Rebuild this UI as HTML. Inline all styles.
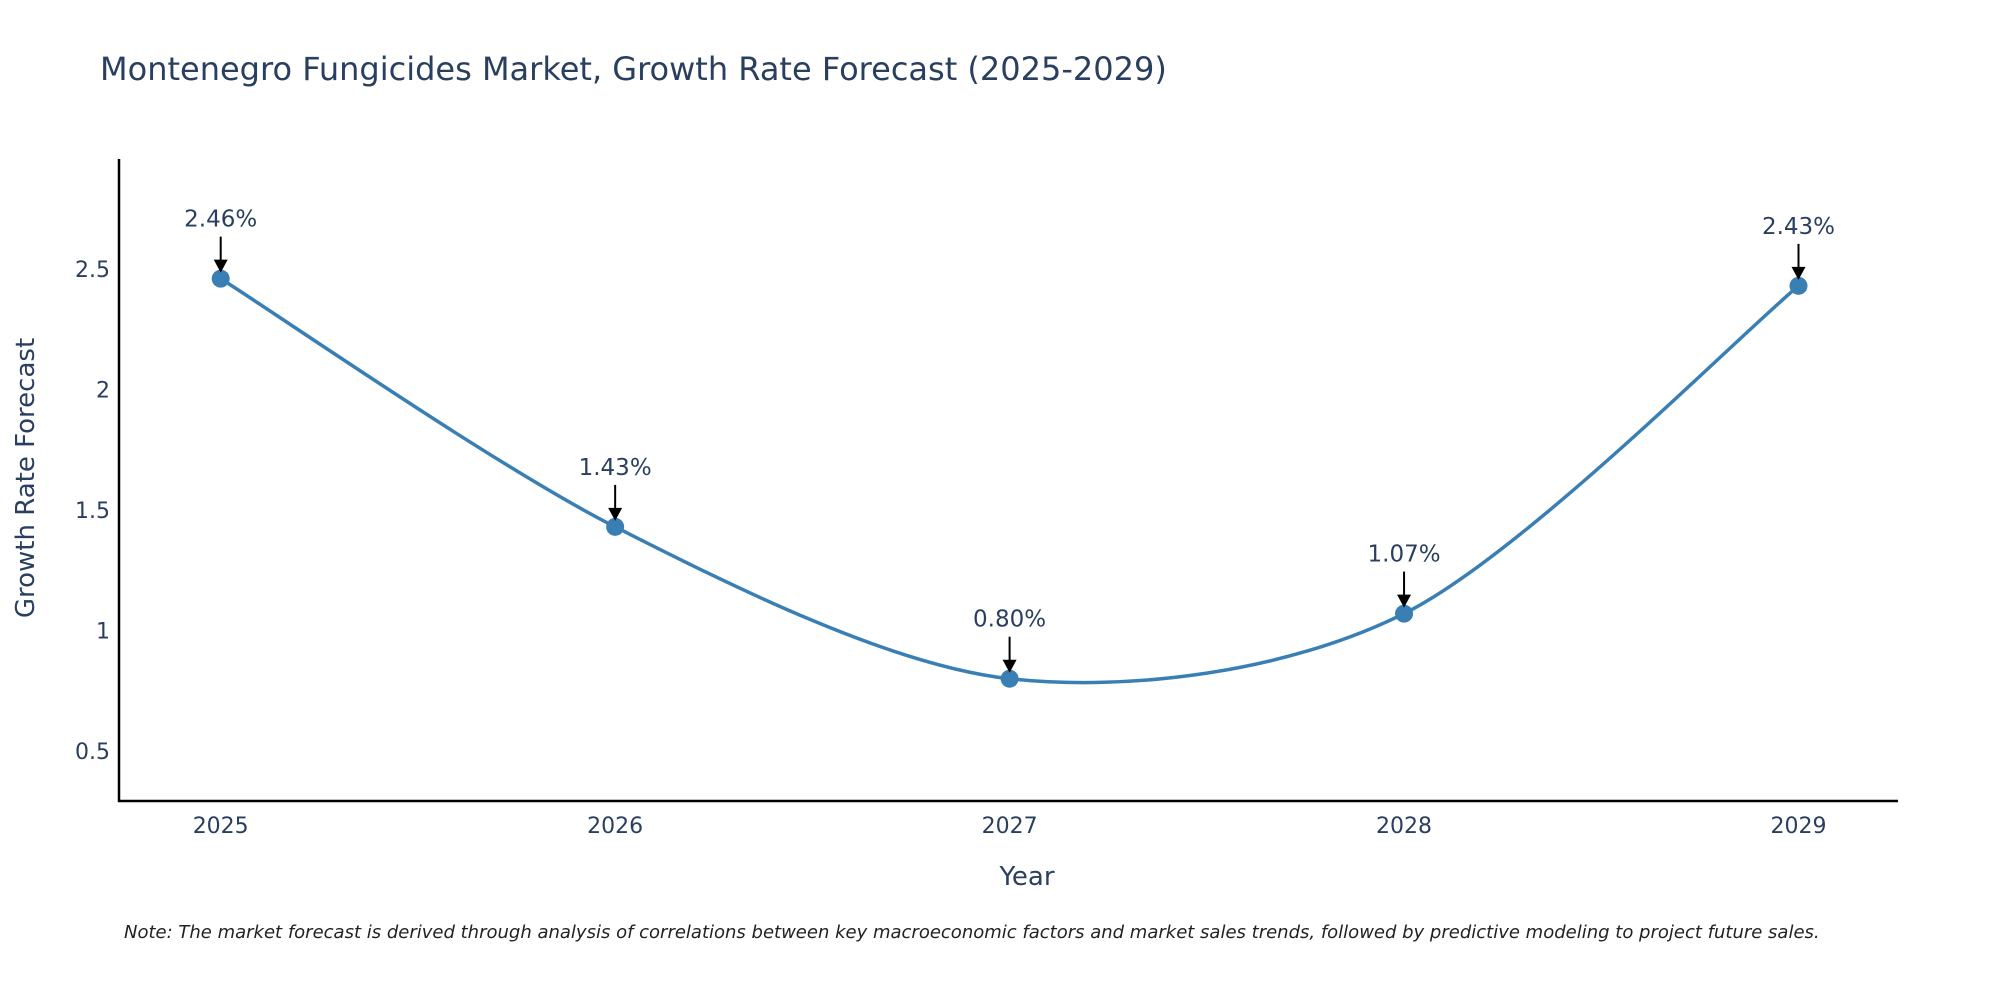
<!DOCTYPE html>
<html><head><meta charset="utf-8"><style>
body{margin:0;background:#fff;}
svg{display:block;font-family:"DejaVu Sans","Liberation Sans",sans-serif;}
</style></head><body>
<svg id="chart" width="2000" height="1000" viewBox="0 0 2000 1000">
<text x="100" y="80" font-size="32" fill="#2a3f5f">Montenegro Fungicides Market, Growth Rate Forecast (2025-2029)</text>
<g id="yticks"></g>
<g id="xticks"></g>
<line x1="119" y1="159" x2="119" y2="802" stroke="#000" stroke-width="2.5"/>
<line x1="118" y1="801" x2="1898" y2="801" stroke="#000" stroke-width="2.5"/>
<path id="line" fill="none" stroke="#3a7fb4" stroke-width="3.5"/>
<g id="points"></g>
<g id="annots"></g>
<text x="1027" y="885" font-size="26" fill="#2a3f5f" text-anchor="middle">Year</text>
<text transform="translate(34,478) rotate(-90)" font-size="26" fill="#2a3f5f" text-anchor="middle">Growth Rate Forecast</text>
<text x="124" y="938" font-size="18" font-style="italic" fill="#222">Note: The market forecast is derived through analysis of correlations between key macroeconomic factors and market sales trends, followed by predictive modeling to project future sales.</text>
</svg>
<script>
const years = [2025, 2026, 2027, 2028, 2029];
const values = [2.46, 1.43, 0.80, 1.07, 2.43];
const labels = ["2.46%", "1.43%", "0.80%", "1.07%", "2.43%"];
const yTicks = [0.5, 1, 1.5, 2, 2.5];
const yTickLabels = ["0.5", "1", "1.5", "2", "2.5"];

const NS = "http://www.w3.org/2000/svg";
const xS = v => 220.7 + (v - 2025) * 394.45;
const yS = v => 751 - (v - 0.5) * 241;
function mk(tag, attrs, parent){const e=document.createElementNS(NS,tag);for(const k in attrs)e.setAttribute(k,attrs[k]);parent.appendChild(e);return e;}

const yg=document.getElementById('yticks');
yTicks.forEach((t,i)=>{
  const e=mk('text',{x:110,y:yS(t)+8,'font-size':22,fill:'#2a3f5f','text-anchor':'end'},yg);
  
  
  e.textContent=yTickLabels[i];
});
const xg=document.getElementById('xticks');
years.forEach(y=>{
  const e=mk('text',{x:xS(y),y:833,'font-size':22,fill:'#2a3f5f','text-anchor':'middle'},xg);
  
  
  e.textContent=String(y);
});

const pts=years.map((y,i)=>[xS(y),yS(values[i])]);
let d=`M${pts[0][0]},${pts[0][1]}`;
const t=0.15;
for(let i=0;i<pts.length-1;i++){
  const p0=pts[Math.max(0,i-1)],p1=pts[i],p2=pts[i+1],p3=pts[Math.min(pts.length-1,i+2)];
  const c1=[p1[0]+(p2[0]-p0[0])*t,p1[1]+(p2[1]-p0[1])*t];
  const c2=[p2[0]-(p3[0]-p1[0])*t,p2[1]-(p3[1]-p1[1])*t];
  d+=` C${c1[0]},${c1[1]} ${c2[0]},${c2[1]} ${p2[0]},${p2[1]}`;
}
document.getElementById('line').setAttribute('d',d);

const pg=document.getElementById('points'), ag=document.getElementById('annots');
pts.forEach((p,i)=>{
  const c=mk('circle',{cx:p[0],cy:p[1],r:9,fill:'#3a7fb4'},pg);
  
  
  const l=mk('line',{x1:p[0],y1:p[1]-42,x2:p[0],y2:p[1]-14,stroke:'#000','stroke-width':2},ag);
  
  
  const h=mk('path',{d:`M${p[0]-7},${p[1]-19} L${p[0]+7},${p[1]-19} L${p[0]},${p[1]-6} Z`,fill:'#000'},ag);
  
  
  const tx=mk('text',{x:p[0],y:p[1]-52,'font-size':23,fill:'#2a3f5f','text-anchor':'middle'},ag);
  
  
  tx.textContent=labels[i];
});
</script>
</body></html>
